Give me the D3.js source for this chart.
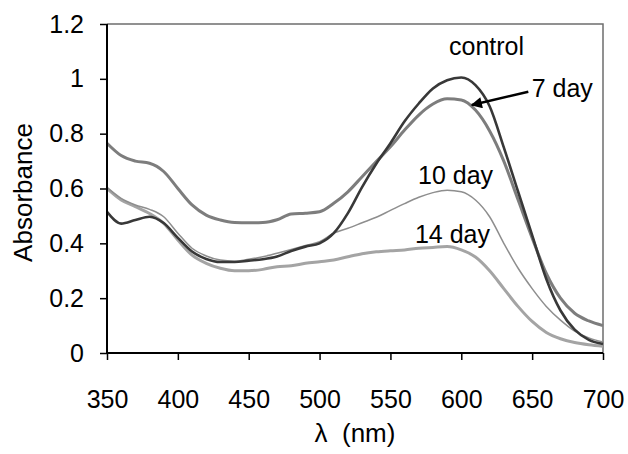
<!DOCTYPE html>
<html>
<head>
<meta charset="utf-8">
<script src="https://cdn.jsdelivr.net/npm/d3@7"></script>
<style>
  html, body { margin: 0; padding: 0; background: #fff; }
  svg { display: block; font-family: "Liberation Sans", Arial, sans-serif; }
</style>
</head>
<body>
<svg id="chart" width="628" height="454"></svg>
<script>
// ---- data ----
const wavelength = [350,360,370,380,390,400,410,420,430,440,450,460,470,480,490,500,510,520,530,540,550,560,570,580,590,600,610,620,630,640,650,660,670,680,690,700];
const control = [0.515,0.472,0.485,0.497,0.474,0.42,0.37,0.343,0.332,0.332,0.337,0.342,0.352,0.372,0.388,0.40,0.437,0.51,0.605,0.69,0.765,0.845,0.91,0.965,0.995,1.005,0.977,0.90,0.75,0.59,0.43,0.27,0.155,0.085,0.048,0.033];
const day7 = [0.765,0.72,0.70,0.692,0.662,0.60,0.54,0.503,0.485,0.476,0.475,0.476,0.486,0.507,0.51,0.515,0.546,0.588,0.643,0.698,0.752,0.813,0.868,0.908,0.927,0.923,0.886,0.81,0.70,0.56,0.42,0.29,0.20,0.145,0.117,0.10];
const day10 = [0.604,0.564,0.54,0.524,0.497,0.437,0.382,0.354,0.339,0.335,0.342,0.351,0.364,0.378,0.392,0.406,0.437,0.455,0.475,0.495,0.52,0.545,0.568,0.585,0.594,0.588,0.558,0.497,0.40,0.31,0.235,0.17,0.12,0.08,0.055,0.04];
const day14 = [0.60,0.558,0.534,0.509,0.473,0.412,0.357,0.327,0.309,0.30,0.30,0.305,0.315,0.318,0.327,0.333,0.339,0.351,0.362,0.369,0.373,0.376,0.382,0.385,0.388,0.376,0.35,0.30,0.235,0.17,0.115,0.075,0.052,0.038,0.03,0.025];
const xTicks = [350,400,450,500,550,600,650,700];
const yTicks = [0,0.2,0.4,0.6,0.8,1.0,1.2];
const yTickLabels = ["0","0.2","0.4","0.6","0.8","1","1.2"];
const seriesNames = ["control","7 day","10 day","14 day"];

// ---- layout ----
const W = 628, H = 454;
const m = {left: 107, top: 24, right: 25, bottom: 101};
const pw = W - m.left - m.right, ph = H - m.top - m.bottom;

const svg = d3.select("#chart");
const g = svg.append("g").attr("transform", `translate(${m.left},${m.top})`);

const x = d3.scaleLinear().domain([350,700]).range([0,pw]);
const y = d3.scaleLinear().domain([0,1.2]).range([ph,0]);

// frame (top/right)
g.append("path")
  .attr("d", `M0,0H${pw}V${ph}`)
  .attr("fill","none").attr("stroke","#6e6e6e").attr("stroke-width",1.5);

// series
const styles = [
  {name: seriesNames[0], data: control, color: "#383838", w: 2.6},
  {name: seriesNames[1], data: day7, color: "#7d7d7d", w: 3},
  {name: seriesNames[2], data: day10, color: "#8e8e8e", w: 1.5},
  {name: seriesNames[3], data: day14, color: "#a4a4a4", w: 3}
];
const line = d3.line().x(d => x(d[0])).y(d => y(d[1])).curve(d3.curveMonotoneX);
[3,2,1,0].forEach(i => {
  const s = styles[i];
  g.append("path")
    .datum(wavelength.map((w,j) => [w, s.data[j]]))
    .attr("fill","none")
    .attr("stroke", s.color)
    .attr("stroke-width", s.w)
    .attr("stroke-linejoin","round")
    .attr("d", line);
});

// axes
const yAxis = d3.axisLeft(y).tickValues(yTicks)
  .tickFormat((d,i) => yTickLabels[i]).tickSize(7).tickPadding(16);
const gy = g.append("g").call(yAxis);
gy.select(".domain").attr("stroke","#000").attr("stroke-width",2).attr("d", `M0,0V${ph}`);
gy.selectAll(".tick line").attr("stroke","#000").attr("stroke-width",1.5);
gy.selectAll(".tick text").attr("font-size",25).attr("fill","#000")
  .attr("font-family",'"Liberation Sans", Arial, sans-serif');

const xAxis = d3.axisBottom(x).tickValues(xTicks).tickFormat(d3.format("d")).tickSize(7).tickPadding(30);
const gx = g.append("g").attr("transform", `translate(0,${ph})`).call(xAxis);
gx.select(".domain").attr("stroke","#000").attr("stroke-width",2).attr("d", `M0,0H${pw}`);
gx.selectAll(".tick line").attr("stroke","#000").attr("stroke-width",1.5);
gx.selectAll(".tick text").attr("font-size",25).attr("fill","#000")
  .attr("font-family",'"Liberation Sans", Arial, sans-serif');

// axis titles
svg.append("text")
  .attr("transform", `translate(32,${192.5}) rotate(-90)`)
  .attr("text-anchor","middle").attr("font-size",26).attr("fill","#000")
  .text("Absorbance");
svg.append("text")
  .attr("x", m.left + pw/2).attr("y", 441.5)
  .attr("text-anchor","middle").attr("font-size",26).attr("fill","#000")
  .style("white-space","pre")
  .text("\u03bb  (nm)");

// annotations (positioned in data coordinates)
const ann = g.append("g").attr("font-size",25).attr("fill","#000");
ann.append("text").attr("x", x(617.8)).attr("y", y(1.087)).attr("text-anchor","middle").text(seriesNames[0]);
ann.append("text").attr("x", x(649.7)).attr("y", y(0.933)).text(seriesNames[1]);
ann.append("text").attr("x", x(569.5)).attr("y", y(0.618)).text(seriesNames[2]);
ann.append("text").attr("x", x(567.3)).attr("y", y(0.40)).text(seriesNames[3]);

// arrow
svg.append("defs").append("marker")
  .attr("id","ah").attr("viewBox","0 0 10 10").attr("refX",9).attr("refY",5)
  .attr("markerWidth",5).attr("markerHeight",4.5).attr("orient","auto")
  .attr("markerUnits","strokeWidth")
  .append("path").attr("d","M0,0L10,5L0,10z").attr("fill","#000");
g.append("line")
  .attr("x1", x(647.3)).attr("y1", y(0.953))
  .attr("x2", x(607.4)).attr("y2", y(0.9045))
  .attr("stroke","#000").attr("stroke-width",2.5)
  .attr("marker-end","url(#ah)");
</script>
</body>
</html>
